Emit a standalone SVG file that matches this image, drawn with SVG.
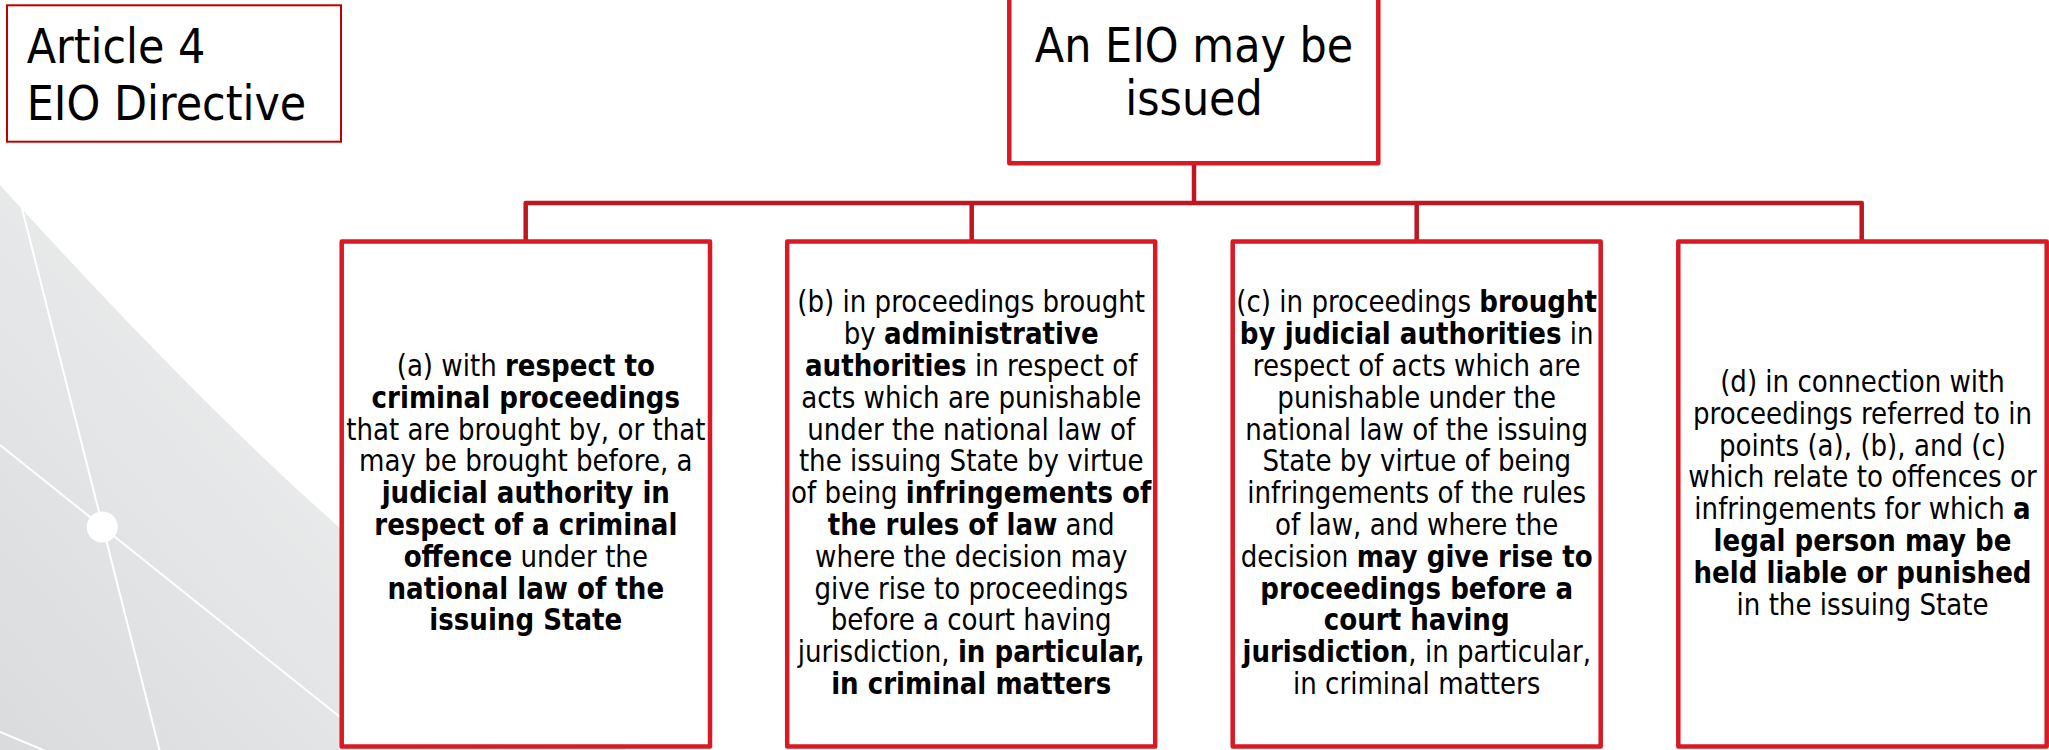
<svg xmlns="http://www.w3.org/2000/svg" width="2049" height="750" viewBox="0 0 2049 750">
<defs>
<linearGradient id="bgGrad" gradientUnits="userSpaceOnUse" x1="0" y1="750" x2="420" y2="380">
<stop offset="0" stop-color="#dadbdd"/>
<stop offset="1" stop-color="#eeefef"/>
</linearGradient>
<style>
.box{fill:#ffffff;stroke:#d71a24;stroke-width:4.5;stroke-linejoin:round}
.title{fill:#ffffff;stroke:#c00000;stroke-width:2}
.conn{fill:none;stroke:#bf1620;stroke-width:4.5;stroke-linejoin:round;stroke-linecap:round}
.hd{font-family:"DejaVu Sans","Verdana",sans-serif;font-size:48px;fill:#000}
.bd{font-family:"DejaVu Sans","Verdana",sans-serif;font-size:30px;fill:#000;text-anchor:middle}
.b{font-weight:bold}
.wl{stroke:#ffffff;stroke-width:2;fill:none}
</style>
</defs>
<rect x="0" y="0" width="2049" height="750" fill="#ffffff"/>
<g id="background">
<path d="M0,185 Q200,405 340,528 T640,760 L0,760 Z" fill="url(#bgGrad)"/>
<line class="wl" x1="0" y1="122" x2="160" y2="752"/>
<line class="wl" x1="0" y1="445" x2="345" y2="721"/>
<line class="wl" x1="0" y1="732" x2="60" y2="757"/>
<circle cx="102.3" cy="527" r="15.5" fill="#ffffff"/>
</g>
<g id="connectors">
<path class="conn" d="M1194,163 V203"/>
<path class="conn" d="M525.7,241.5 V203 H1861.7 V241.5 M971.7,203 V241.5 M1416.7,203 V241.5"/>
</g>
<g id="node-article">
<rect class="title" x="7" y="5.3" width="334" height="136.4"/>
<g transform="translate(26.7,0) scale(0.895,1)">
<text class="hd"><tspan x="0" y="63.3">Article 4</tspan><tspan x="0" y="120">EIO Directive</tspan></text>
</g>
</g>
<g id="node-root">
<rect class="box" x="1009.3" y="-20" width="369" height="183.3"/>
<g transform="translate(1194,0) scale(0.895,1)">
<text class="hd" text-anchor="middle"><tspan x="0" y="61.7">An EIO may be</tspan><tspan x="0" y="115">issued</tspan></text>
</g>
</g>
<g id="node-a">
<rect class="box" x="341.7" y="241.5" width="368.3" height="505"/>
<g transform="translate(525.8,0) scale(0.87,1)">
<text class="bd"><tspan x="0" y="376.1">(a) with <tspan class="b">respect to</tspan></tspan><tspan x="0" y="407.9" class="b">criminal proceedings</tspan><tspan x="0" y="439.7">that are brought by, or that</tspan><tspan x="0" y="471.5">may be brought before, a</tspan><tspan x="0" y="503.3" class="b">judicial authority in</tspan><tspan x="0" y="535.1" class="b">respect of a criminal</tspan><tspan x="0" y="566.9"><tspan class="b">offence</tspan> under the</tspan><tspan x="0" y="598.7" class="b">national law of the</tspan><tspan x="0" y="630.5" class="b">issuing State</tspan></text>
</g>
</g>
<g id="node-b">
<rect class="box" x="787.2" y="241.5" width="368" height="505"/>
<g transform="translate(971.2,0) scale(0.87,1)">
<text class="bd"><tspan x="0" y="312.5">(b) in proceedings brought</tspan><tspan x="0" y="344.3">by <tspan class="b">administrative</tspan></tspan><tspan x="0" y="376.1"><tspan class="b">authorities</tspan> in respect of</tspan><tspan x="0" y="407.9">acts which are punishable</tspan><tspan x="0" y="439.7">under the national law of</tspan><tspan x="0" y="471.5">the issuing State by virtue</tspan><tspan x="0" y="503.3">of being <tspan class="b">infringements of</tspan></tspan><tspan x="0" y="535.1"><tspan class="b">the rules of law</tspan> and</tspan><tspan x="0" y="566.9">where the decision may</tspan><tspan x="0" y="598.7">give rise to proceedings</tspan><tspan x="0" y="630.5">before a court having</tspan><tspan x="0" y="662.3">jurisdiction, <tspan class="b">in particular,</tspan></tspan><tspan x="0" y="694.1" class="b">in criminal matters</tspan></text>
</g>
</g>
<g id="node-c">
<rect class="box" x="1232.7" y="241.5" width="368" height="505"/>
<g transform="translate(1416.7,0) scale(0.87,1)">
<text class="bd"><tspan x="0" y="312.5">(c) in proceedings <tspan class="b">brought</tspan></tspan><tspan x="0" y="344.3"><tspan class="b">by judicial authorities</tspan> in</tspan><tspan x="0" y="376.1">respect of acts which are</tspan><tspan x="0" y="407.9">punishable under the</tspan><tspan x="0" y="439.7">national law of the issuing</tspan><tspan x="0" y="471.5">State by virtue of being</tspan><tspan x="0" y="503.3">infringements of the rules</tspan><tspan x="0" y="535.1">of law, and where the</tspan><tspan x="0" y="566.9">decision <tspan class="b">may give rise to</tspan></tspan><tspan x="0" y="598.7" class="b">proceedings before a</tspan><tspan x="0" y="630.5" class="b">court having</tspan><tspan x="0" y="662.3"><tspan class="b">jurisdiction</tspan>, in particular,</tspan><tspan x="0" y="694.1">in criminal matters</tspan></text>
</g>
</g>
<g id="node-d">
<rect class="box" x="1678.3" y="241.5" width="368.4" height="505"/>
<g transform="translate(1862.5,0) scale(0.87,1)">
<text class="bd"><tspan x="0" y="392">(d) in connection with</tspan><tspan x="0" y="423.8">proceedings referred to in</tspan><tspan x="0" y="455.6">points (a), (b), and (c)</tspan><tspan x="0" y="487.4">which relate to offences or</tspan><tspan x="0" y="519.2">infringements for which <tspan class="b">a</tspan></tspan><tspan x="0" y="551" class="b">legal person may be</tspan><tspan x="0" y="582.8" class="b">held liable or punished</tspan><tspan x="0" y="614.6">in the issuing State</tspan></text>
</g>
</g>
</svg>
